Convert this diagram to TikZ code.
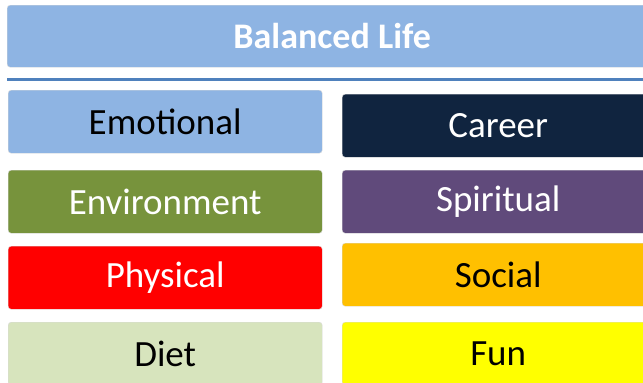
\documentclass[tikz,border=0pt]{standalone}
\usepackage{fontspec}
\setmainfont{Carlito}
\definecolor{lightblue}{HTML}{8EB4E3}
\definecolor{rulecol}{HTML}{4F81BD}
\definecolor{navy}{HTML}{10243F}
\definecolor{olive}{HTML}{77933C}
\definecolor{plum}{HTML}{604A7B}
\definecolor{redc}{HTML}{FF0000}
\definecolor{amber}{HTML}{FFC000}
\definecolor{sage}{HTML}{D7E4BD}
\definecolor{yel}{HTML}{FFFF00}
\begin{document}
\begin{tikzpicture}[x=1pt,y=-1pt,
  tile/.style={rectangle, rounded corners=3pt, draw=white!85!black, line width=0.4pt,
    inner sep=0pt, minimum height=63pt, anchor=north west,
    font=\fontsize{37}{44}\selectfont},
  lefttile/.style={tile, minimum width=314pt},
  righttile/.style={tile, minimum width=312pt},
  titlebox/.style={rectangle, rounded corners=3pt, draw=white!85!black, line width=0.4pt,
    fill=lightblue, inner sep=0pt, minimum width=650pt, minimum height=62pt, anchor=north west,
    text=white, font=\fontsize{36}{42}\selectfont\bfseries}]
  \useasboundingbox (0,0) rectangle (643,383);
  \clip (0,0) rectangle (643,383);
  \fill[white] (0,0) rectangle (643,383);
  % heading
  \node[titlebox] (title) at (7,5) {Balanced Life};
  \coordinate (ruleL) at (7,79);
  \coordinate (ruleR) at (660,79);
  \draw[rulecol, line width=3pt] (ruleL) -- (ruleR);
  % left column
  \node[lefttile, fill=lightblue, text=black] (emotional) at (8,90) {Emotional};
  \node[lefttile, fill=olive, text=white] (environment) at (8,170) {Environment};
  \node[lefttile, fill=redc, text=white] (physical) at (8,246) {Physical};
  \node[lefttile, fill=sage, text=black] (diet) at (8,322) {Diet};
  % right column
  \node[righttile, fill=navy, text=white] (career) at (342,94) {Career};
  \node[righttile, fill=plum, text=white] (spiritual) at (342,170) {Spiritual};
  \node[righttile, fill=amber, text=black] (social) at (342,243) {Social};
  \node[righttile, fill=yel, text=black] (fun) at (342,322) {Fun};
\end{tikzpicture}
\end{document}
